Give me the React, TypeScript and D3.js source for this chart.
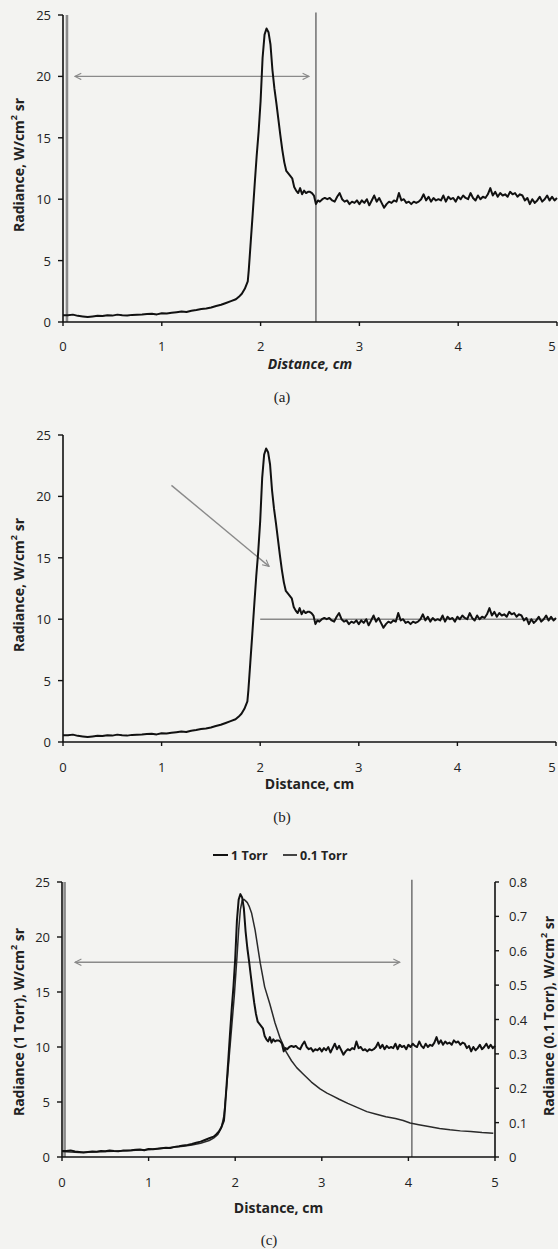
import React from 'react';
import * as d3 from 'd3';

// ---------- DATA ----------
const distance1Torr = [
  0.0, 0.05, 0.1, 0.15, 0.2, 0.25, 0.3, 0.35, 0.4, 0.45, 0.5, 0.55, 0.6, 0.65, 0.7, 0.75, 0.8, 0.85, 0.9, 0.95,
  1.0, 1.05, 1.1, 1.15, 1.2, 1.25, 1.3, 1.35, 1.4, 1.45, 1.5, 1.55, 1.6, 1.65, 1.7, 1.75, 1.78, 1.81, 1.84, 1.87,
  1.88, 1.9, 1.92, 1.94, 1.96, 1.98, 2.0, 2.02, 2.04, 2.06, 2.08, 2.1, 2.12, 2.14, 2.16, 2.18, 2.2, 2.22, 2.24, 2.26,
  2.28, 2.3, 2.32, 2.34, 2.36, 2.38, 2.4, 2.42, 2.44, 2.46, 2.48, 2.5, 2.52, 2.54, 2.56, 2.58,
  2.6, 2.625, 2.65, 2.675, 2.7, 2.725, 2.75, 2.775, 2.8, 2.825, 2.85, 2.875, 2.9, 2.925, 2.95, 2.975,
  3.0, 3.025, 3.05, 3.075, 3.1, 3.125, 3.15, 3.175, 3.2, 3.225, 3.25, 3.275, 3.3, 3.325, 3.35, 3.375,
  3.4, 3.425, 3.45, 3.475, 3.5, 3.525, 3.55, 3.575, 3.6, 3.625, 3.65, 3.675, 3.7, 3.725, 3.75, 3.775,
  3.8, 3.825, 3.85, 3.875, 3.9, 3.925, 3.95, 3.975, 4.0, 4.025, 4.05, 4.075, 4.1, 4.125, 4.15, 4.175,
  4.2, 4.225, 4.25, 4.275, 4.3, 4.325, 4.35, 4.375, 4.4, 4.425, 4.45, 4.475, 4.5, 4.525, 4.55, 4.575,
  4.6, 4.625, 4.65, 4.675, 4.7, 4.725, 4.75, 4.775, 4.8, 4.825, 4.85, 4.875, 4.9, 4.925, 4.95, 4.975, 5.0,
];
const radiance1Torr = [
  0.55, 0.55, 0.6, 0.5, 0.45, 0.4, 0.45, 0.5, 0.48, 0.55, 0.52, 0.6, 0.55, 0.52, 0.58, 0.6, 0.62, 0.65, 0.68, 0.62,
  0.72, 0.7, 0.75, 0.8, 0.85, 0.82, 0.92, 0.98, 1.05, 1.1, 1.18, 1.3, 1.4, 1.55, 1.7, 1.85, 2.05, 2.3, 2.7, 3.3,
  4.2, 6.5, 8.8, 11.2, 13.5, 15.5, 18.0, 21.5, 23.4, 23.9, 23.6, 22.6, 20.5, 19.0, 17.8, 16.5, 15.2, 14.0, 13.0, 12.3,
  12.1, 11.9, 11.7, 11.0, 10.7, 10.5, 10.9, 10.4, 10.7, 10.5, 10.6, 10.6, 10.5, 10.3, 9.6, 9.9,
  9.8, 10.0, 10.1, 10.0, 10.1, 9.9, 9.8, 10.2, 10.5, 10.0, 9.8, 9.9, 9.6, 9.8, 9.7, 9.9,
  9.6, 9.9, 9.7, 10.0, 9.5, 9.9, 10.3, 9.8, 10.1, 9.7, 9.3, 9.6, 9.8, 9.7, 9.9, 9.8,
  10.5, 9.9, 10.0, 9.7, 9.8, 9.6, 9.8, 9.7, 9.8, 10.0, 10.4, 9.9, 10.2, 9.8, 10.1, 9.9,
  10.0, 9.9, 10.3, 9.8, 10.2, 10.0, 10.1, 9.8, 10.2, 10.0, 10.3, 10.1, 10.0, 10.5, 10.1, 9.9,
  10.3, 10.0, 10.2, 10.1, 10.4, 10.9, 10.3, 10.6, 10.2, 10.5, 10.3, 10.4, 10.2, 10.6, 10.4, 10.5,
  10.2, 10.4, 10.3, 9.9, 10.1, 9.6, 10.0, 9.7, 9.9, 10.2, 9.8, 10.0, 10.3, 9.9, 10.2, 9.9, 10.1,
];

const distance01Torr = [
  0.0, 0.2, 0.4, 0.6, 0.8, 1.0, 1.2, 1.4, 1.5, 1.6, 1.7, 1.75, 1.8, 1.84, 1.87, 1.9, 1.93, 1.96, 1.99, 2.02,
  2.04, 2.06, 2.08, 2.1, 2.12, 2.14, 2.16, 2.19, 2.23, 2.29, 2.34, 2.4, 2.46, 2.52, 2.59, 2.65, 2.71, 2.79,
  2.88, 2.98, 3.06, 3.13, 3.2, 3.3, 3.4, 3.52, 3.62, 3.74, 3.85, 3.94, 4.02, 4.12, 4.25, 4.36, 4.48, 4.6,
  4.72, 4.85, 4.98,
];
const radiance01Torr = [
  0.016, 0.013, 0.015, 0.017, 0.019, 0.022, 0.026, 0.031, 0.035, 0.04, 0.048, 0.055, 0.066, 0.085, 0.12, 0.2, 0.29, 0.38, 0.47, 0.58,
  0.66, 0.72, 0.745, 0.75, 0.745, 0.74, 0.73, 0.709, 0.66, 0.563, 0.495, 0.445, 0.39, 0.345, 0.305, 0.28, 0.26, 0.24,
  0.218, 0.198, 0.186, 0.177, 0.168, 0.156, 0.145, 0.132, 0.125, 0.117, 0.112, 0.106, 0.099, 0.094, 0.088, 0.083, 0.079, 0.076,
  0.074, 0.071, 0.069,
];

const xTicks = [0, 1, 2, 3, 4, 5];
const yTicks = [0, 5, 10, 15, 20, 25];
const yTicksRight = [0, 0.1, 0.2, 0.3, 0.4, 0.5, 0.6, 0.7, 0.8];
const legendLabels = ['1 Torr', '0.1 Torr'];
const captions = ['(a)', '(b)', '(c)'];

const FONT = "'Open Sans', 'DejaVu Sans', sans-serif";
const GRAY = '#8a8a8a';
const TICK_FS = 13;
const TITLE_FS = 14;

function Axes({ x, y, yR, xLabelY, titleY, titleItalic, title, captionY, caption, captionX, yTitle, yTitleY, yTitleR, yTitleRY }) {
  const [x0, x1] = x.range();
  const [yb, yt] = y.range();
  return (
    <g>
      <line x1={x0} x2={x1} y1={yb} y2={yb} stroke="#111" strokeWidth={1.6} />
      <line x1={x0} x2={x0} y1={yb} y2={yt} stroke="#111" strokeWidth={1.6} />
      {xTicks.map((t) => (
        <g key={'x' + t}>
          <line x1={x(t)} x2={x(t)} y1={yb} y2={yb + 4} stroke="#111" strokeWidth={1.4} />
          <text x={Math.min(x(t), 552)} y={xLabelY} textAnchor="middle" dominantBaseline="central" fontFamily={FONT} fontSize={TICK_FS} fill="#222">{t}</text>
        </g>
      ))}
      {yTicks.map((t) => (
        <g key={'y' + t}>
          <line x1={x0 - 5} x2={x0} y1={y(t)} y2={y(t)} stroke="#111" strokeWidth={1.4} />
          <text x={x0 - 12} y={y(t)} textAnchor="end" dominantBaseline="central" fontFamily={FONT} fontSize={TICK_FS} fill="#222">{t}</text>
        </g>
      ))}
      {yR && (
        <g>
          <line x1={x1} x2={x1} y1={yb} y2={yt} stroke="#111" strokeWidth={1.6} />
          {yTicksRight.map((t) => (
            <g key={'r' + t}>
              <line x1={x1} x2={x1 + 4} y1={yR(t)} y2={yR(t)} stroke="#111" strokeWidth={1.4} />
              <text x={x1 + 14} y={yR(t)} textAnchor="start" dominantBaseline="central" fontFamily={FONT} fontSize={TICK_FS} fill="#222">{t === 0 ? '0' : t.toFixed(1)}</text>
            </g>
          ))}
          <text transform={`translate(548,${yTitleRY}) rotate(-90)`} textAnchor="middle" dominantBaseline="central" fontFamily={FONT} fontSize={TITLE_FS} fontWeight="bold" fill="#222">
            {yTitleR}<tspan dy={-5} fontSize={9}>2</tspan><tspan dy={5}> sr</tspan>
          </text>
        </g>
      )}
      <text x={(x0 + x1) / 2} y={titleY} textAnchor="middle" dominantBaseline="central" fontFamily={FONT} fontSize={TITLE_FS} fontWeight="bold" fontStyle={titleItalic ? 'italic' : 'normal'} fill="#222">{title}</text>
      <text x={captionX} y={captionY} textAnchor="middle" dominantBaseline="central" fontFamily="'Liberation Serif', 'DejaVu Serif', serif" fontSize={15} fill="#222">{caption}</text>
      <text transform={`translate(18,${yTitleY}) rotate(-90)`} textAnchor="middle" dominantBaseline="central" fontFamily={FONT} fontSize={TITLE_FS} fontWeight="bold" fill="#222">
        {yTitle}<tspan dy={-5} fontSize={9}>2</tspan><tspan dy={5}> sr</tspan>
      </text>
    </g>
  );
}

export default function App() {
  // Panel (a)
  const xa = d3.scaleLinear().domain([0, 5]).range([63, 557]);
  const ya = d3.scaleLinear().domain([0, 25]).range([322, 15]);
  // Panel (b)
  const xb = d3.scaleLinear().domain([0, 5]).range([63, 556]);
  const yb = d3.scaleLinear().domain([0, 25]).range([742, 435]);
  // Panel (c)
  const xc = d3.scaleLinear().domain([0, 5]).range([62, 495]);
  const yc = d3.scaleLinear().domain([0, 25]).range([1157, 882]);
  const ycR = d3.scaleLinear().domain([0, 0.8]).range([1157, 882]);

  const mk = (x, y, xs, ys) =>
    d3.line<number>().x((_, i) => x(xs[i])).y((d) => y(d)).curve(d3.curveLinear)(ys);

  const la = mk(xa, ya, distance1Torr, radiance1Torr);
  const lb = mk(xb, yb, distance1Torr, radiance1Torr);
  const lc1 = mk(xc, yc, distance1Torr, radiance1Torr);
  const lc2 = mk(xc, ycR, distance01Torr, radiance01Torr);

  return (
    <svg width={558} height={1249} style={{ position: 'absolute', left: 0, top: 0, background: '#f3f3f1' }}>
      <defs>
        <marker id="arr" viewBox="0 0 10 10" refX="9" refY="5" markerWidth="8" markerHeight="8" orient="auto-start-reverse" markerUnits="userSpaceOnUse">
          <path d="M1,1 L9,5 L1,9" fill="none" stroke={GRAY} strokeWidth={1.4} />
        </marker>
      </defs>
      <rect x={0} y={0} width={558} height={1249} fill="#f3f3f1" />

      {/* ---------- (a) ---------- */}
      <line x1={xa(0.04)} x2={xa(0.04)} y1={ya(25)} y2={ya(0)} stroke={GRAY} strokeWidth={2.6} />
      <line x1={xa(2.56)} x2={xa(2.56)} y1={ya(25.2)} y2={ya(0)} stroke="#6f6f6f" strokeWidth={1.5} />
      <line x1={xa(0.12)} x2={xa(2.49)} y1={ya(20)} y2={ya(20)} stroke={GRAY} strokeWidth={1.4} markerStart="url(#arr)" markerEnd="url(#arr)" />
      <Axes x={xa} y={ya} xLabelY={346} titleY={363} titleItalic title="Distance, cm" captionY={397} caption={captions[0]} captionX={282} yTitle="Radiance, W/cm" yTitleY={165} />
      <path d={la} fill="none" stroke="#111" strokeWidth={2} strokeLinejoin="round" />

      {/* ---------- (b) ---------- */}
      <line x1={xb(2)} x2={xb(5)} y1={yb(10)} y2={yb(10)} stroke={GRAY} strokeWidth={1.5} />
      <line x1={xb(1.1)} x2={xb(2.09)} y1={yb(20.9)} y2={yb(14.3)} stroke={GRAY} strokeWidth={1.4} markerEnd="url(#arr)" />
      <Axes x={xb} y={yb} xLabelY={767} titleY={783} title="Distance, cm" captionY={817} caption={captions[1]} captionX={282} yTitle="Radiance, W/cm" yTitleY={585} />
      <path d={lb} fill="none" stroke="#111" strokeWidth={2} strokeLinejoin="round" />

      {/* ---------- (c) ---------- */}
      <line x1={xc(0.03)} x2={xc(0.03)} y1={yc(25)} y2={yc(0)} stroke={GRAY} strokeWidth={2.6} />
      <line x1={xc(4.04)} x2={xc(4.04)} y1={yc(25.2)} y2={yc(0)} stroke="#6f6f6f" strokeWidth={1.5} />
      <line x1={xc(0.15)} x2={xc(3.9)} y1={yc(17.7)} y2={yc(17.7)} stroke={GRAY} strokeWidth={1.4} markerStart="url(#arr)" markerEnd="url(#arr)" />
      <Axes x={xc} y={yc} yR={ycR} xLabelY={1182} titleY={1207} title="Distance, cm" captionY={1240} caption={captions[2]} captionX={269} yTitle="Radiance (1 Torr), W/cm" yTitleY={1022} yTitleR="Radiance (0.1 Torr), W/cm" yTitleRY={1016} />
      <path d={lc2} fill="none" stroke="#2a2a2a" strokeWidth={1.5} strokeLinejoin="round" />
      <path d={lc1} fill="none" stroke="#111" strokeWidth={2} strokeLinejoin="round" />
      {/* legend */}
      <line x1={213} x2={228} y1={855} y2={855} stroke="#111" strokeWidth={2} />
      <text x={231} y={855} dominantBaseline="central" fontFamily={FONT} fontSize={12.5} fontWeight="bold" fill="#222">{legendLabels[0]}</text>
      <line x1={283} x2={297} y1={855} y2={855} stroke="#444" strokeWidth={2} />
      <text x={300} y={855} dominantBaseline="central" fontFamily={FONT} fontSize={12.5} fontWeight="bold" fill="#222">{legendLabels[1]}</text>
    </svg>
  );
}
